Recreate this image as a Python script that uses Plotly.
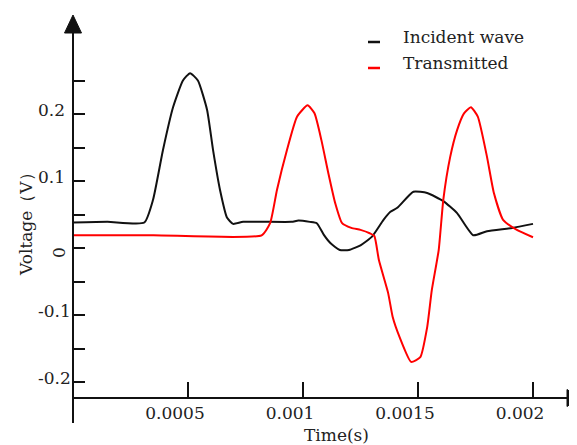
import plotly.graph_objects as go

# ---- data ----
incident_t = [0, 0.00015, 0.00031, 0.000348, 0.000391, 0.000435, 0.000478, 0.000509,
              0.000543, 0.000583, 0.000609, 0.000639, 0.00067, 0.000696, 0.00074,
              0.00095, 0.00098, 0.00103, 0.00106, 0.00109, 0.00112, 0.00116, 0.0012,
              0.00125, 0.0013, 0.00135, 0.00138, 0.00141, 0.00148, 0.00154, 0.00161,
              0.00167, 0.00174, 0.0018, 0.00191, 0.002]
incident_v = [0.038, 0.039, 0.038, 0.072, 0.146, 0.21, 0.25, 0.261,
              0.25, 0.206, 0.146, 0.087, 0.045, 0.036, 0.039,
              0.039, 0.041, 0.039, 0.037, 0.02, 0.007, -0.003, -0.003,
              0.004, 0.017, 0.042, 0.054, 0.060, 0.084, 0.082, 0.070,
              0.052, 0.019, 0.025, 0.030, 0.036]

trans_t = [0, 0.00035, 0.00082, 0.000857, 0.000887, 0.00093, 0.000974, 0.00102,
           0.00105, 0.00108, 0.00111, 0.00114, 0.00117, 0.00121, 0.00125, 0.00129,
           0.00131, 0.00133, 0.00137, 0.00139, 0.00142, 0.00147, 0.00151, 0.00154,
           0.00156, 0.00159, 0.00161, 0.00164, 0.00167, 0.0017, 0.00173, 0.00176,
           0.0018, 0.00183, 0.00187, 0.00193, 0.002]
trans_v = [0.019, 0.019, 0.019, 0.037, 0.087, 0.146, 0.196, 0.213,
           0.201, 0.161, 0.112, 0.067, 0.037, 0.030, 0.027, 0.022,
           0.018, -0.018, -0.067, -0.103, -0.133, -0.170, -0.163, -0.118,
           -0.063, -0.003, 0.072, 0.136, 0.176, 0.201, 0.210, 0.196,
           0.136, 0.082, 0.042, 0.027, 0.016]

series_names = ["Incident wave", "Transmitted"]
series_colors = ["#111111", "#ff0000"]

x_tickvals = [0.0005, 0.001, 0.0015, 0.002]
x_ticktext = ["0.0005", "0.001", "0.0015", "0.002"]
y_tickvals = [-0.2, -0.15, -0.1, -0.05, 0, 0.05, 0.1, 0.15, 0.2, 0.25]
y_labelvals = [0.2, 0.1, -0.1, -0.2]
y_labeltext = ["0.2", "0.1", "-0.1", "-0.2"]
x_title = "Time(s)"
y_title = "Voltage（V）"

# ---- layout geometry (page body adds an 8px offset) ----
OFF = 8
W, H = 577 - OFF, 445 - OFF
L, R, T, B = 73 - OFF, 7, 15 - OFF, 47
PW, PH = W - L - R, H - T - B
X_PER_PX = 1 / 230000.0
V_PER_PX = 1 / 670.0
x_range = [0, PW * X_PER_PX]
y_range = [(248 - 398) * V_PER_PX, (248 - 15) * V_PER_PX]


def px(x):
    return (x - OFF - L) / PW


def py(y):
    return (T + PH - (y - OFF)) / PH


FONT = "DejaVu Serif"
TXT = "#222222"
FS = 17

fig = go.Figure()
fig.add_trace(go.Scatter(x=incident_t, y=incident_v, mode="lines",
                         line=dict(color=series_colors[0], width=2, shape="spline", smoothing=0.5),
                         name=series_names[0], showlegend=False))
fig.add_trace(go.Scatter(x=trans_t, y=trans_v, mode="lines",
                         line=dict(color=series_colors[1], width=2, shape="spline", smoothing=0.5),
                         name=series_names[1], showlegend=False))

shapes = []
blk = dict(color="#111111", width=2)
shapes.append(dict(type="line", xref="paper", yref="paper", x0=0, x1=0,
                   y0=py(423), y1=py(32), line=blk))
shapes.append(dict(type="path", xref="paper", yref="paper",
                   path=f"M {px(73)} {py(15)} L {px(64.5)} {py(33)} L {px(81.5)} {py(33)} Z",
                   fillcolor="#111111", line=dict(color="#111111", width=1)))
shapes.append(dict(type="line", xref="paper", yref="paper", x0=px(72), x1=px(568),
                   y0=0, y1=0, line=blk))
shapes.append(dict(type="path", xref="paper", yref="paper",
                   path=f"M {px(580)} {py(398)} L {px(567)} {py(389.5)} L {px(567)} {py(406.5)} Z",
                   fillcolor="#111111", line=dict(color="#111111", width=1)))
shapes.append(dict(type="line", xref="paper", yref="paper", x0=px(368), x1=px(380),
                   y0=py(42), y1=py(42), line=dict(color=series_colors[0], width=2.5)))
shapes.append(dict(type="line", xref="paper", yref="paper", x0=px(368), x1=px(380),
                   y0=py(68), y1=py(68), line=dict(color=series_colors[1], width=2.5)))

ann = []
for v, t in zip(y_labelvals, y_labeltext):
    ann.append(dict(x=px(36), y=v, xref="paper", yref="y", text=t, showarrow=False,
                    xanchor="left", yanchor="middle", yshift=4,
                    font=dict(family=FONT, size=FS, color=TXT)))
ann.append(dict(x=px(59), y=py(253), xref="paper", yref="paper", text="0",
                showarrow=False, textangle=-90, xanchor="center", yanchor="middle",
                font=dict(family=FONT, size=FS, color=TXT)))
ann.append(dict(x=px(26), y=py(220), xref="paper", yref="paper", text=y_title,
                showarrow=False, textangle=-90, xanchor="center", yanchor="middle",
                font=dict(family=FONT, size=FS, color=TXT)))
ann.append(dict(x=px(336), y=py(435), xref="paper", yref="paper", text=x_title,
                showarrow=False, xanchor="center", yanchor="middle",
                font=dict(family=FONT, size=FS, color=TXT)))
ann.append(dict(x=px(401), y=py(37), xref="paper", yref="paper", text=series_names[0],
                showarrow=False, xanchor="left", yanchor="middle",
                font=dict(family=FONT, size=FS, color=TXT)))
ann.append(dict(x=px(401), y=py(63), xref="paper", yref="paper", text=series_names[1],
                showarrow=False, xanchor="left", yanchor="middle",
                font=dict(family=FONT, size=FS, color=TXT)))

fig.update_layout(
    width=W, height=H,
    margin=dict(l=L, r=R, t=T, b=B, pad=0),
    paper_bgcolor="white", plot_bgcolor="white",
    font=dict(family=FONT, size=FS, color=TXT),
    showlegend=False,
    shapes=shapes, annotations=ann,
    xaxis=dict(range=x_range, showgrid=False, zeroline=False, showline=False,
               tickmode="array", tickvals=x_tickvals, ticktext=x_ticktext,
               ticks="inside", ticklen=16, tickwidth=2, tickcolor="#111111",
               ticklabelshift=-13, ticklabelstandoff=3,
               tickfont=dict(family=FONT, size=FS, color=TXT), fixedrange=True),
    yaxis=dict(range=y_range, showgrid=False, zeroline=False, showline=False,
               tickmode="array", tickvals=y_tickvals, showticklabels=False,
               ticks="inside", ticklen=12, tickwidth=2, tickcolor="#111111",
               fixedrange=True),
)

fig.write_html("out.html")
